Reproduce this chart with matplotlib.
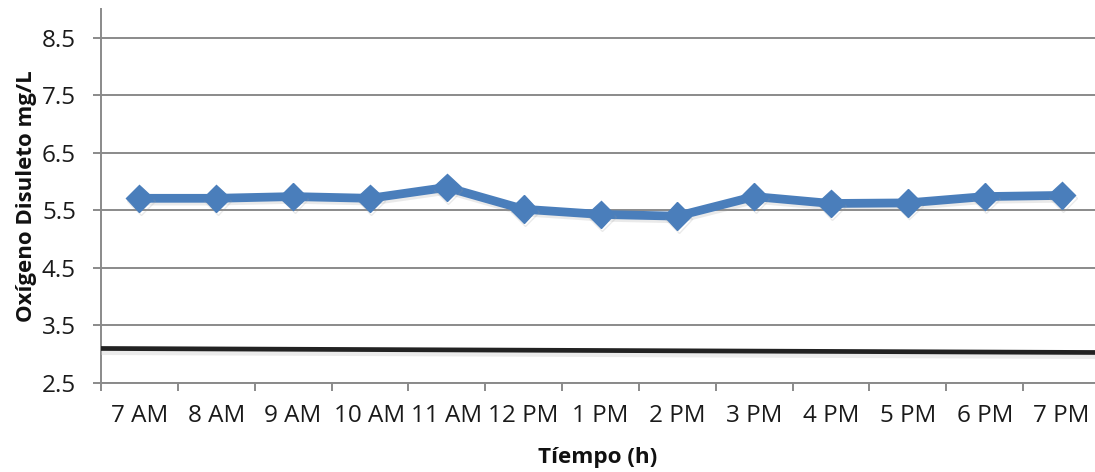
import matplotlib
matplotlib.use("Agg")
import matplotlib.pyplot as plt
import matplotlib.patheffects as pe
import numpy as np

# Hourly dissolved-oxygen readings
hours = ["7 AM", "8 AM", "9 AM", "10 AM", "11 AM", "12 PM", "1 PM",
         "2 PM", "3 PM", "4 PM", "5 PM", "6 PM", "7 PM"]
oxygen = [5.71, 5.71, 5.74, 5.71, 5.90, 5.52, 5.43,
          5.40, 5.74, 5.62, 5.63, 5.74, 5.76]

# Reference level line (start and end values across the axis)
reference_level = [3.10, 3.03]

y_ticks = [2.5, 3.5, 4.5, 5.5, 6.5, 7.5, 8.5]

plt.rcParams["font.family"] = ["Open Sans", "DejaVu Sans"]

W, H = 1095, 472
fig = plt.figure(figsize=(W / 100, H / 100), dpi=100)
ax = fig.add_axes([101 / W, 89 / H, 999 / W, 374 / H])

grid_color = "#8a8a8a"
x = np.arange(len(hours))

ax.set_xlim(-0.5, len(hours) - 0.5)
ax.set_ylim(2.5, 9.0)

for yv in y_ticks:
    ax.axhline(yv, color=grid_color, lw=1.4, zorder=1)

# Reference line spanning the full category range
ax.plot([-0.5, len(hours) - 0.5], reference_level, color="#222222", lw=3.4,
        solid_capstyle="butt", zorder=3,
        path_effects=[pe.SimpleLineShadow(offset=(0, -3), shadow_color="#c8c8c8", alpha=0.35),
                      pe.Normal()])

ax.plot(x, oxygen, color="#4a7ebb", lw=6.3, marker="D", markersize=14,
        markerfacecolor="#4a7ebb", markeredgecolor="#4a7ebb", markeredgewidth=1,
        zorder=4,
        path_effects=[pe.SimpleLineShadow(offset=(1, -2), shadow_color="#9a9a9a", alpha=0.2),
                      pe.Normal()])

# Axes styling
for side in ["top", "right"]:
    ax.spines[side].set_visible(False)
ax.spines["left"].set_color(grid_color)
ax.spines["bottom"].set_color(grid_color)
ax.spines["left"].set_linewidth(1.4)
ax.spines["bottom"].set_linewidth(1.4)

ax.set_yticks(y_ticks)
ax.set_yticklabels([f"{v:.1f}" for v in y_ticks])
ax.tick_params(axis="y", direction="out", length=6, width=1.4, color=grid_color,
               labelsize=17.5, pad=12, labelcolor="#1a1a1a")

ax.set_xticks(x)
ax.set_xticklabels(hours)
ax.set_xticks(np.arange(-0.5, len(hours), 1.0), minor=True)
ax.tick_params(axis="x", which="major", length=0, labelsize=17.5, pad=15, labelcolor="#1a1a1a")
ax.tick_params(axis="x", which="minor", direction="out", length=6, width=1.4, color=grid_color)

fig.text(598 / W, 1 - 458 / H, "Tíempo (h)", ha="center", va="center",
         fontsize=16.2, fontweight="bold", color="#111111")
fig.text(27 / W, 1 - 196 / H, "Oxígeno Disuleto mg/L", ha="center", va="center",
         rotation=90, fontsize=16, fontweight="bold", color="#111111")

fig.savefig("out.png", dpi=100)
